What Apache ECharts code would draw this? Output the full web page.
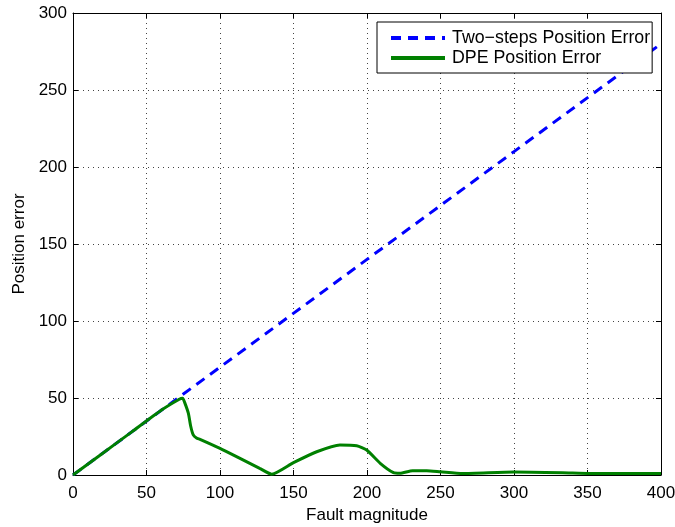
<!DOCTYPE html>
<html>
<head>
<meta charset="utf-8">
<script src="https://cdn.jsdelivr.net/npm/echarts@6/dist/echarts.min.js"></script>
<style>
  html, body { margin: 0; padding: 0; background: #fff; }
  #chart { width: 675px; height: 527px; }
</style>
</head>
<body>
<div id="chart"></div>
<script>
// values
const twoStepX = [0, 100, 200, 300, 400]
const twoStepY = [0, 70, 140, 210, 280]

const dpeX = [0, 20, 40, 60, 72, 74.6, 76, 78.5, 80, 81.8, 84, 86.4, 100, 113.6, 127, 135.2,
  150, 165.8, 181.6, 193, 199.8, 209, 218, 222.4, 231, 240.6, 250, 265, 300, 333, 352, 400]
const dpeY = [0, 14, 28, 42, 49, 49.8, 47, 40, 32, 26, 24, 23.2, 17.3, 10.8, 4.3, 0.5,
  8, 15.1, 19.5, 19, 16.2, 7.6, 1.5, 1.1, 2.8, 2.8, 2.1, 1, 2, 1.5, 1, 1]

const xTicks = { min: 0, max: 400, interval: 50 }
const yTicks = { min: 0, max: 300, interval: 50 }

const font = 'Liberation Sans, Arial, Helvetica, sans-serif'
const fontSize = 17
const pairs = (xs, ys) => xs.map((x, i) => [x, ys[i]])

const chart = echarts.init(document.getElementById('chart'), null, { renderer: 'canvas' })

const gridDots = { show: true, lineStyle: { color: '#444', type: [1, 4], width: 1 } }
const frameAxis = (extra) => Object.assign({
  type: 'value',
  axisLine: { show: true, onZero: false, lineStyle: { color: '#000', width: 1 } },
  axisTick: { show: true, inside: true, length: 5, lineStyle: { color: '#000' } },
  axisLabel: { show: false },
  splitLine: { show: false }
}, extra)

chart.setOption({
  animation: false,
  backgroundColor: '#fff',
  textStyle: { fontFamily: font },
  grid: { left: 73, right: 14, top: 13, bottom: 52, containLabel: false, outerBoundsMode: 'none' },
  legend: {
    orient: 'vertical',
    left: 377,
    top: 22,
    backgroundColor: '#fff',
    borderColor: '#000',
    borderWidth: 1,
    borderRadius: 0,
    padding: [7, 2, 6, 12],
    itemWidth: 54,
    itemHeight: 14,
    itemGap: 2,
    itemStyle: { color: 'transparent', borderWidth: 0, opacity: 0 },
    lineStyle: { width: 4 },
    textStyle: { fontSize: 17.8, color: '#000', fontFamily: font, padding: [0, 0, 0, 2] },
    data: ['Two\u2212steps Position Error', 'DPE Position Error']
  },
  xAxis: [
    frameAxis({
      min: xTicks.min, max: xTicks.max, interval: xTicks.interval,
      name: 'Fault magnitude',
      nameLocation: 'middle',
      nameGap: 29,
      nameTextStyle: { fontSize: fontSize, color: '#000', fontFamily: font },
      axisLabel: { show: true, margin: 10, fontSize: fontSize, color: '#000', fontFamily: font },
      splitLine: gridDots
    }),
    frameAxis({ position: 'top', min: xTicks.min, max: xTicks.max, interval: xTicks.interval })
  ],
  yAxis: [
    frameAxis({
      min: yTicks.min, max: yTicks.max, interval: yTicks.interval,
      name: 'Position error',
      nameLocation: 'middle',
      nameGap: 44,
      nameTextStyle: { fontSize: fontSize, color: '#000', fontFamily: font },
      axisLabel: { show: true, margin: 6, fontSize: fontSize, color: '#000', fontFamily: font },
      splitLine: gridDots
    }),
    frameAxis({ position: 'right', min: yTicks.min, max: yTicks.max, interval: yTicks.interval })
  ],
  series: [
    {
      name: 'Two\u2212steps Position Error',
      type: 'line',
      data: pairs(twoStepX, twoStepY),
      symbol: 'none',
      color: '#0000ff',
      lineStyle: { color: '#0000ff', width: 3, type: [10, 7] },
      z: 2
    },
    {
      name: 'DPE Position Error',
      type: 'line',
      data: pairs(dpeX, dpeY),
      symbol: 'none',
      smooth: 0.2,
      color: '#008000',
      lineStyle: { color: '#008000', width: 3 },
      z: 3
    }
  ]
})
</script>
</body>
</html>
